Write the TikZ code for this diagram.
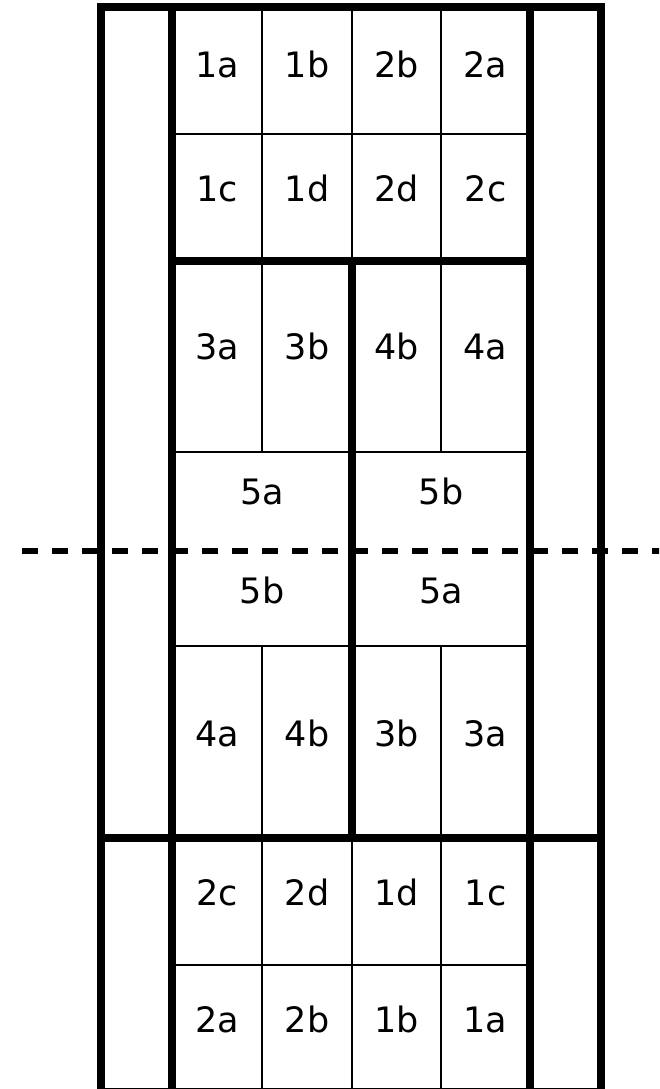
\documentclass[tikz,border=0pt]{standalone}
\usepackage{fontspec}
\setmainfont{DejaVu Sans}
\begin{document}
\begin{tikzpicture}[x=1pt,y=-1pt,
  thickline/.style={line width=8pt},
  thinline/.style={line width=1.4pt},
  cutline/.style={line width=6.5pt, dash pattern=on 16pt off 14pt},
  lab/.style={font=\fontsize{35}{42}\selectfont, inner sep=0pt, text height=0.73em, text depth=0pt}]
\useasboundingbox (0,0) rectangle (659,1089);
\clip (0,0) rectangle (659,1089);
% thin grid lines
\draw[thinline] (262,7.5) -- (262,261) (352,7.5) -- (352,261) (441,7.5) -- (441,261);
\draw[thinline] (172,134) -- (530,134);
\draw[thinline] (262,261) -- (262,452) (441,261) -- (441,452);
\draw[thinline] (172,452) -- (530,452);
\draw[thinline] (172,646) -- (530,646);
\draw[thinline] (262,646) -- (262,838) (441,646) -- (441,838);
\draw[thinline] (262,838) -- (262,1091) (352,838) -- (352,1091) (441,838) -- (441,1091);
\draw[thinline] (172,965) -- (530,965);
% thick lines
\draw[thickline] (101,7.5) rectangle (601,1092);
\draw[thickline] (172,7.5) -- (172,1092) (530,7.5) -- (530,1092);
\draw[thickline] (172,261) -- (530,261);
\draw[thickline] (352,261) -- (352,838);
\draw[thickline] (101,838) -- (601,838);
% cut line
\draw[cutline] (22,551) -- (680,551);
% labels
\node[lab] (t1a) at (217,74) {1a};
\node[lab] (t1b) at (307,74) {1b};
\node[lab] (t2b) at (396.5,74) {2b};
\node[lab] (t2a) at (485.5,74) {2a};
\node[lab] (t1c) at (217,198) {1c};
\node[lab] (t1d) at (307,198) {1d};
\node[lab] (t2d) at (396.5,198) {2d};
\node[lab] (t2c) at (485.5,198) {2c};
\node[lab] (m3a) at (217,356) {3a};
\node[lab] (m3b) at (307,356) {3b};
\node[lab] (m4b) at (396.5,356) {4b};
\node[lab] (m4a) at (485.5,356) {4a};
\node[lab] (m5a) at (262,501) {5a};
\node[lab] (m5b) at (441,501) {5b};
\node[lab] (n5b) at (262,600) {5b};
\node[lab] (n5a) at (441,600) {5a};
\node[lab] (n4a) at (217,743) {4a};
\node[lab] (n4b) at (307,743) {4b};
\node[lab] (n3b) at (396.5,743) {3b};
\node[lab] (n3a) at (485.5,743) {3a};
\node[lab] (b2c) at (217,902) {2c};
\node[lab] (b2d) at (307,902) {2d};
\node[lab] (b1d) at (396.5,902) {1d};
\node[lab] (b1c) at (485.5,902) {1c};
\node[lab] (b2a) at (217,1029) {2a};
\node[lab] (b2b) at (307,1029) {2b};
\node[lab] (b1b) at (396.5,1029) {1b};
\node[lab] (b1a) at (485.5,1029) {1a};
\end{tikzpicture}
\end{document}
